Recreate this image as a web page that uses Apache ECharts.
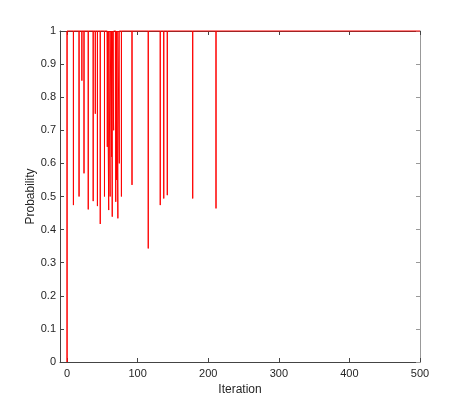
<!DOCTYPE html>
<html>
<head>
<meta charset="utf-8">
<script src="https://cdn.jsdelivr.net/npm/echarts@6/dist/echarts.min.js"></script>
<style>html,body{margin:0;padding:0;background:#fff}#c{width:463px;height:407px}</style>
</head>
<body>
<div id="c"></div>
<script>
// Iterations where probability dips below 1, and the dip values
const spikeIters  = [0,    9,     17,   21,   24,   30,    37,    40,   43,    47,    53,   57,   59,    61,   63,   64,    66,   69,    70,   72,    74,   77,   92,    115,   132,   137,   142,   178,   211];
const spikeValues = [0,    0.474, 0.50, 0.85, 0.57, 0.461, 0.486, 0.75, 0.471, 0.417, 0.50, 0.65, 0.459, 0.50, 0.62, 0.439, 0.70, 0.484, 0.55, 0.434, 0.60, 0.50, 0.535, 0.343, 0.474, 0.494, 0.504, 0.494, 0.464];
const baseline = 1;
const lastIter = 500;
const xTicks = [0, 100, 200, 300, 400, 500];

// each dip is drawn as a vertical stroke: baseline -> dip -> baseline at the same iteration
const data = [];
spikeIters.forEach((it, k) => {
  data.push([it, baseline], [it, spikeValues[k]], [it, baseline]);
});
data.push([lastIter, baseline]);

const font = 'Liberation Sans, Arial, sans-serif';
const axisCol = '#444';
const chart = echarts.init(document.getElementById('c'), null, {renderer: 'canvas'});
chart.setOption({
  animation: false,
  grid: {left: 60, right: 43, top: 31, bottom: 45},
  xAxis: [{
    type: 'value', min: -10, max: 500,
    name: 'Iteration', nameLocation: 'middle', nameGap: 22, nameMoveOverlap: false,
    nameTextStyle: {fontFamily: font, fontSize: 12, color: '#262626'},
    axisLine: {show: true, onZero: false, lineStyle: {color: axisCol, width: 1}},
    axisTick: {show: true, inside: true, length: 4, customValues: xTicks, lineStyle: {color: axisCol}},
    axisLabel: {fontFamily: font, fontSize: 11, color: '#262626', margin: 6, customValues: xTicks},
    splitLine: {show: false}
  }, {
    type: 'value', min: -10, max: 500, position: 'top',
    axisLine: {show: true, onZero: false, lineStyle: {color: axisCol, width: 1}},
    axisTick: {show: true, inside: true, length: 4, customValues: xTicks, lineStyle: {color: axisCol}},
    axisLabel: {show: false},
    splitLine: {show: false}
  }],
  yAxis: [{
    type: 'value', min: 0, max: 1, interval: 0.1,
    name: 'Probability', nameLocation: 'middle', nameGap: 23, nameMoveOverlap: false,
    nameTextStyle: {fontFamily: font, fontSize: 12, color: '#262626'},
    axisLine: {show: true, onZero: false, lineStyle: {color: axisCol, width: 1}},
    axisTick: {show: true, inside: true, length: 4, lineStyle: {color: axisCol}},
    axisLabel: {fontFamily: font, fontSize: 11, color: '#262626', margin: 4},
    splitLine: {show: false}
  }, {
    type: 'value', min: 0, max: 1, interval: 0.1, position: 'right',
    axisLine: {show: true, onZero: false, lineStyle: {color: '#999', width: 1}},
    axisTick: {show: true, inside: true, length: 4, lineStyle: {color: '#999'}},
    axisLabel: {show: false},
    splitLine: {show: false}
  }],
  series: [{
    type: 'line', data: data, showSymbol: false, symbol: 'none',
    lineStyle: {color: '#ff0000', width: 1}, z: 5, clip: false
  }]
});
</script>
</body>
</html>
